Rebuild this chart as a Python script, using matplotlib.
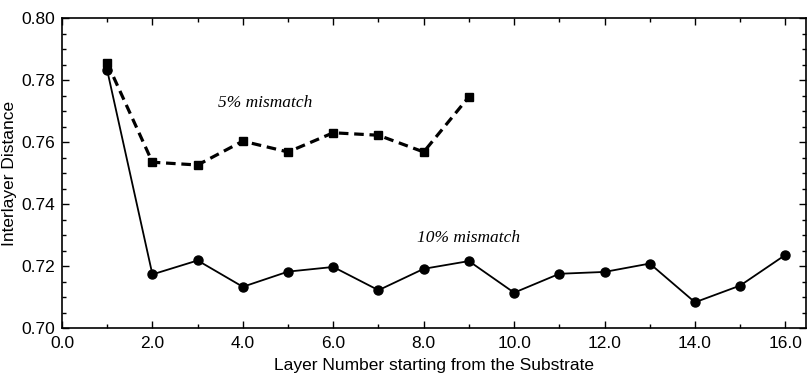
import matplotlib
matplotlib.use("Agg")
import matplotlib.pyplot as plt
from matplotlib.ticker import MultipleLocator, FormatStrFormatter

layers10 = list(range(1, 17))
dist10 = [0.7832, 0.7173, 0.7218, 0.7133, 0.7182, 0.7197, 0.7122, 0.7191,
          0.7216, 0.7114, 0.7175, 0.7181, 0.7208, 0.7083, 0.7137, 0.7236]
layers5 = list(range(1, 10))
dist5 = [0.7855, 0.7535, 0.7526, 0.7603, 0.7568, 0.7630, 0.7622, 0.7568, 0.7746]

plt.rcParams['font.family'] = ['Liberation Sans', 'DejaVu Sans']

fig = plt.figure(figsize=(8.09, 3.85), dpi=100)
ax = fig.add_axes([0.0766, 0.148, 0.9194, 0.805])

ax.plot(layers10, dist10, color='black', lw=1.3, marker='o', markersize=6.5, zorder=3)
ax.plot(layers5, dist5, color='black', lw=2.3, ls=(0, (3, 1.8)), marker='s', markersize=6, zorder=4)

ax.text(4.5, 0.7725, '5% mismatch', fontsize=12.5, style='italic',
        family=['Liberation Serif', 'DejaVu Serif'], ha='center', va='center')
ax.text(9.0, 0.7292, '10% mismatch', fontsize=12.5, style='italic',
        family=['Liberation Serif', 'DejaVu Serif'], ha='center', va='center')

ax.set_xlim(0, 16.45)
ax.set_ylim(0.70, 0.80)
ax.xaxis.set_major_locator(MultipleLocator(2))
ax.xaxis.set_minor_locator(MultipleLocator(1))
ax.yaxis.set_major_locator(MultipleLocator(0.02))
ax.yaxis.set_minor_locator(MultipleLocator(0.005))
ax.xaxis.set_major_formatter(FormatStrFormatter('%.1f'))
ax.yaxis.set_major_formatter(FormatStrFormatter('%.2f'))
ax.tick_params(which='both', direction='in', top=True, right=True, labelsize=12.5, width=1)
ax.tick_params(which='major', length=5)
ax.tick_params(which='minor', length=3)
ax.tick_params(axis='x', which='major', pad=6)
ax.tick_params(axis='y', which='major', pad=5)
for s in ax.spines.values():
    s.set_linewidth(1.2)

ax.set_xlabel('Layer Number starting from the Substrate', fontsize=12.5, labelpad=5)
ax.set_ylabel('Interlayer Distance', fontsize=12.5, labelpad=3)

fig.savefig('out.png', dpi=100)
